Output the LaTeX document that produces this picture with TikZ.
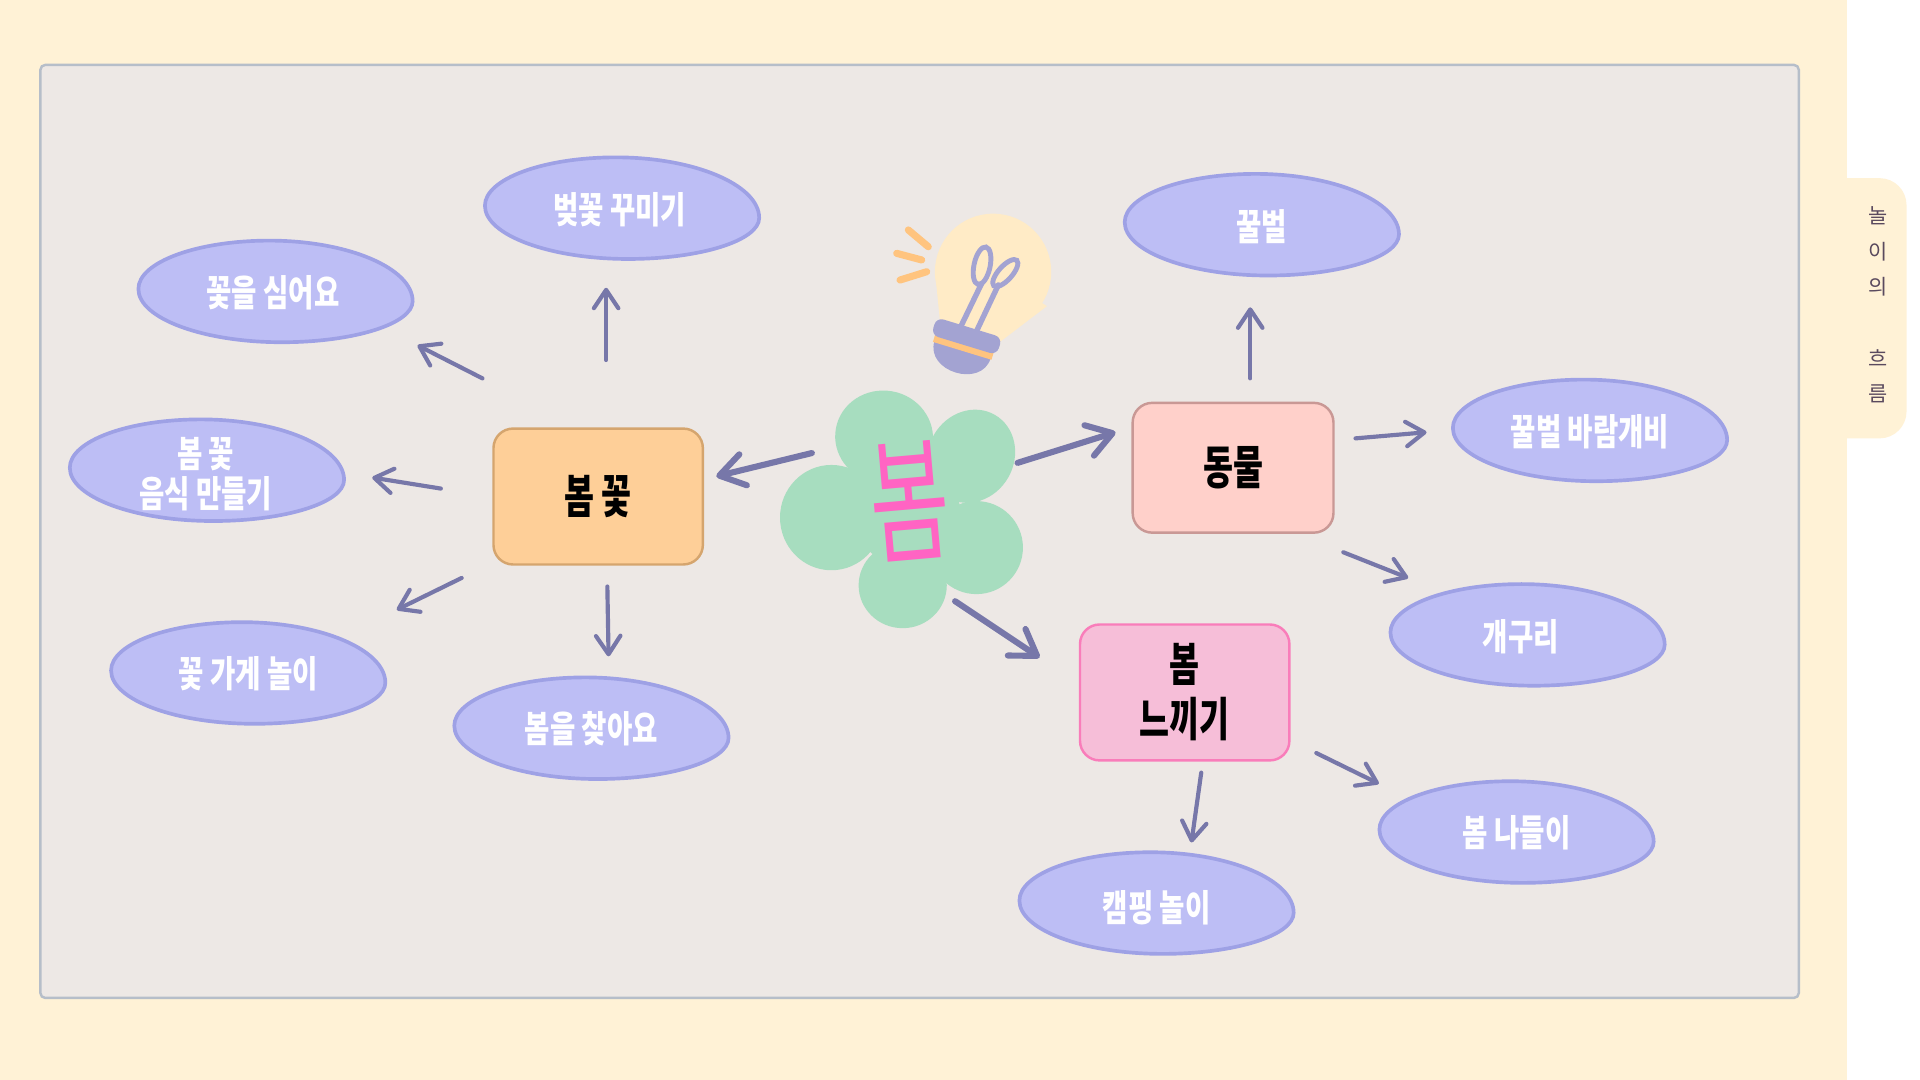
\documentclass[tikz,border=0pt]{standalone}
\usepackage{fontspec}
\newfontfamily\krA[FakeStretch=0.75]{Noto Sans CJK KR}
\newfontfamily\krB[FakeStretch=0.7]{Noto Sans CJK KR}
\newfontfamily\krC[FakeStretch=0.64]{Noto Sans CJK KR}
\newfontfamily\krT{Noto Sans CJK KR}
\usetikzlibrary{arrows.meta,calc}
\definecolor{cream}{HTML}{FFF2D6}
\definecolor{panel}{HTML}{EDE8E5}
\definecolor{panelb}{HTML}{B6BEC9}
\definecolor{blobf}{HTML}{BDBEF5}
\definecolor{blobd}{HTML}{9EA1E5}
\definecolor{arrowc}{HTML}{7777A9}
\definecolor{boxaf}{HTML}{FECF98}
\definecolor{boxad}{HTML}{D5A56E}
\definecolor{boxbf}{HTML}{FFD0CA}
\definecolor{boxbd}{HTML}{C99895}
\definecolor{boxcf}{HTML}{F6BED8}
\definecolor{boxcd}{HTML}{F97DBA}
\definecolor{petal}{HTML}{A7DDBF}
\definecolor{bompink}{HTML}{FF64C3}
\definecolor{glass}{HTML}{FFEBC6}
\definecolor{metal}{HTML}{A3A3D2}
\definecolor{ray}{HTML}{FFC47F}
\definecolor{tabtext}{HTML}{5A4A5E}
\tikzset{
  blobsty/.style={fill=blobf, draw=blobd, line width=1.5pt},
  btext/.style={text=white, font=\krA\bfseries\fontsize{15}{16.5}\selectfont, align=center, inner sep=0pt},
  boxsty/.style={rounded corners=8pt, line width=1pt, minimum width=85.5pt, minimum height=55.5pt,
    font=\krB\bfseries\fontsize{19}{22.5}\selectfont, align=center, text=black, inner sep=0pt},
  arr/.style={draw=arrowc, line width=1.7pt, line cap=round, -{Straight Barb[length=7.5pt,width=10pt,round]}},
  arrbig/.style={draw=arrowc, line width=2.5pt, line cap=round, -{Straight Barb[length=10pt,width=13pt,round]}},
}
\newcommand\blobshape[1]{\begin{scope}[shift={(#1)}]
  \filldraw[blobsty] (112,8) .. controls (112,26.4) and (64,41.5) .. (5,41.5)
     .. controls (-59,41.5) and (-112,22) .. (-112,-2)
     .. controls (-112,-24) and (-64,-41.5) .. (-5,-41.5)
     .. controls (59,-41.5) and (112,-19) .. (112,8) -- cycle;
\end{scope}}
\begin{document}
\begin{tikzpicture}[x=0.5pt,y=-0.5pt]
\useasboundingbox (0,0) rectangle (1568,882);
% background
\fill[white] (0,0) rectangle (1568,882);
\fill[cream] (0,0) rectangle (1508,882);
\fill[cream, rounded corners=11pt] (1480,145.5) rectangle (1557,358);
\node[font=\krT\fontsize{8.5}{14.55}\selectfont, text=tabtext, align=center, inner sep=0pt] (tab) at (1534,249) {놀\\이\\의\\[14.55pt]흐\\름};
% panel
\filldraw[fill=panel, draw=panelb, line width=1pt, rounded corners=2pt] (33,53) rectangle (1469,815);

% light bulb
\draw[ray, line width=2.9pt, line cap=round] (741.8,187.8) -- (758.1,201.5);
\draw[ray, line width=2.9pt, line cap=round] (732.3,206.9) -- (752.7,212.3);
\draw[ray, line width=2.9pt, line cap=round] (735.0,228.7) -- (756.8,221.9);
\fill[glass] (811,222) circle [radius=23.75pt];
\fill[glass] (764,226) -- (768,266) -- (813,282) -- (855,250) -- (811,222) -- cycle;
\draw[metal, line width=2.2pt, line cap=round] (784,268) -- (801.7,231.4);
\draw[metal, line width=2.2pt, line cap=round] (796,273.6) -- (815.3,232.7);
\draw[metal, line width=2pt, rotate around={-12:(802,217)}] (802,217) ellipse [x radius=3.3pt, y radius=7.8pt];
\draw[metal, line width=2pt, rotate around={48:(821,223)}] (821,223) ellipse [x radius=7pt, y radius=2.8pt];
\begin{scope}[shift={(789,276)}, rotate=-17]
  \fill[metal] (-24,10) .. controls (-24,36) and (24,36) .. (24,10) -- cycle;
  \fill[ray] (-25,5) rectangle (25,11);
  \fill[metal, rounded corners=3pt] (-28,-9) rectangle (28,6);
\end{scope}

% central flower
\fill[petal, rotate around={-10:(722,357)}] (722,357) ellipse [x radius=20pt, y radius=19pt];
\fill[petal, rotate around={-30:(793,372.6)}] (793,372.6) ellipse [x radius=17.5pt, y radius=19.5pt];
\fill[petal] (679,422.7) ellipse [x radius=21pt, y radius=21.5pt];
\fill[petal] (797.4,447.2) circle [radius=19pt];
\fill[petal] (737.2,478) ellipse [x radius=18pt, y radius=17.5pt];
\fill[petal] (740,418) circle [radius=22pt];
\node[font=\krC\fontsize{55}{60}\selectfont, text=bompink, rotate=5, inner sep=0pt] (bom) at (743,409) {봄};

% category boxes
\node[boxsty, fill=boxaf, draw=boxad] (bk) at (488.5,405.5) {봄 꽃};
\node[boxsty, fill=boxbf, draw=boxbd, minimum width=82pt, minimum height=53pt] (dm) at (1007,382) {동물};
\node[boxsty, fill=boxcf, draw=boxcd] (nk) at (967.5,565.5) {봄\\느끼기};

% blobs
\blobshape{508,170}
\node[btext] (beot) at (506,171) {벚꽃 꾸미기};
\blobshape{225,238}
\node[btext] (kkot) at (223,239) {꽃을 심어요};
\blobshape{169,384}
\node[btext] (eumsik) at (168,387) {봄 꽃\\음식 만들기};
\blobshape{202.7,549.6}
\node[btext] (gage) at (202.7,550) {꽃 가게 놀이};
\blobshape{483,594.7}
\node[btext] (chaja) at (483,595) {봄을 찾아요};
\blobshape{1030.5,183.5}
\node[btext] (kkulbeol) at (1030.5,185) {꿀벌};
\blobshape{1298.5,351.5}
\node[btext] (baram) at (1298.5,353) {꿀벌 바람개비};
\blobshape{1247.5,518.5}
\node[btext] (gaeguri) at (1242,520) {개구리};
\blobshape{1238.5,679.5}
\node[btext] (nadeuri) at (1238.5,680) {봄 나들이};
\blobshape{944.5,737.5}
\node[btext] (camping) at (944.5,741) {캠핑 놀이};

% arrows from the centre
\draw[arrbig] ([shift={(-80,-39)}]bom.center) -- ([shift={(96.5,-16.5)}]bk.center);
\draw[arrbig] ([shift={(88,-31)}]bom.center) -- ([shift={(-96,-29)}]dm.center);
\draw[arrbig] ([shift={(37,82)}]bom.center) -- ([shift={(-118.5,-28.5)}]nk.center);
% arrows from 봄 꽃
\draw[arr] ([shift={(-94.5,-96.5)}]bk.center) -- ([shift={(118,43)}]kkot.center);
\draw[arr] ([shift={(6.5,-111.5)}]bk.center) -- ([shift={(-11,64)}]beot.center);
\draw[arr] ([shift={(-128.5,-6.5)}]bk.center) -- ([shift={(136,3)}]eumsik.center);
\draw[arr] ([shift={(-111.5,66.5)}]bk.center) -- ([shift={(121.3,-52)}]gage.center);
\draw[arr] ([shift={(7.5,73.5)}]bk.center) -- ([shift={(14,-59)}]chaja.center);
% arrows from 동물
\draw[arr] ([shift={(14,-73)}]dm.center) -- ([shift={(-9.5,66)}]kkulbeol.center);
\draw[arr] ([shift={(100,-24)}]dm.center) -- ([shift={(-133.5,0)}]baram.center);
\draw[arr] ([shift={(90,69)}]dm.center) -- ([shift={(-92,-48)}]gaeguri.center);
% arrows from 봄 느끼기
\draw[arr] ([shift={(13.5,65.5)}]nk.center) -- ([shift={(28.5,-53)}]camping.center);
\draw[arr] ([shift={(107.5,49.5)}]nk.center) -- ([shift={(-112.5,-40)}]nadeuri.center);
\end{tikzpicture}
\end{document}
